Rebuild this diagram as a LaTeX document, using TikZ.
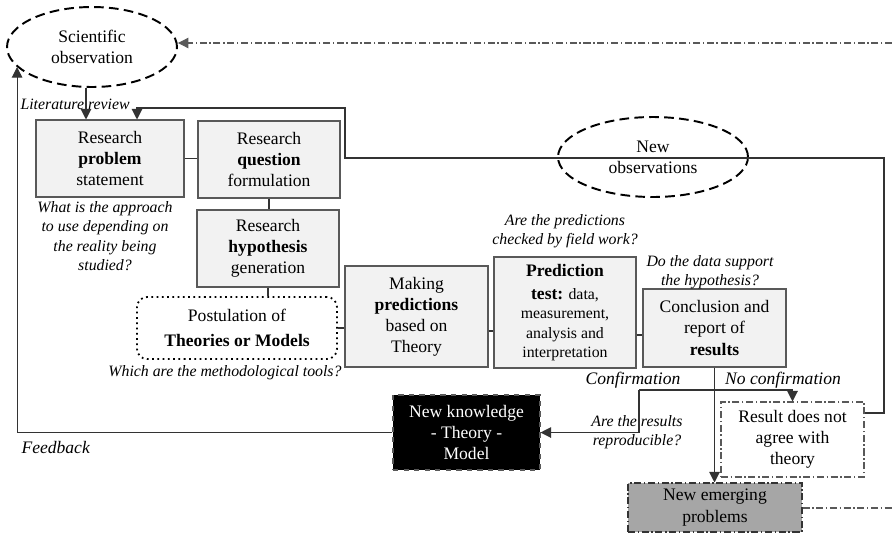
\documentclass[tikz,border=0pt]{standalone}
\usepackage{fontspec}
\setmainfont{Liberation Serif}
\usetikzlibrary{shapes.geometric,arrows.meta}
\definecolor{boxfill}{HTML}{F2F2F2}
\definecolor{boxline}{HTML}{595959}
\definecolor{emergfill}{HTML}{A6A6A6}
\definecolor{conline}{HTML}{333333}

\begin{document}
\begin{tikzpicture}[x=0.02cm,y=-0.02cm,line width=0.6pt,
    rbox/.style={draw=boxline,fill=boxfill,inner sep=0pt,align=center},
    obs/.style={ellipse,draw=black,line width=1.1pt,dash pattern=on 5.5pt off 3pt,inner sep=0pt,align=center},
    qtext/.style={font=\small\itshape,align=center,inner sep=0pt},
    arr/.style={draw=conline,-{Triangle[length=6pt,width=6pt]}},
    ddash/.style={draw=boxline,dash pattern=on 4pt off 1.5pt on 0.8pt off 1.5pt}]
        \useasboundingbox (0,0) rectangle (892,542);

        % observations
        \node[obs,minimum width=3.4cm,minimum height=1.6cm] (sciobs) at (92,47) {Scientific\\observation};
        \node[obs,minimum width=3.8cm,minimum height=1.6cm] (newobs) at (653,157) {New\\observations};

        % research steps
        \node[rbox,minimum width=2.96cm,minimum height=1.54cm] (prob) at (110,158.5) {Research\\\textbf{problem}\\statement};
        \node[rbox,minimum width=2.84cm,minimum height=1.54cm] (ques) at (269,159.5) {Research\\\textbf{question}\\formulation};
        \node[rbox,minimum width=2.84cm,minimum height=1.54cm] (hyp) at (268,248.5) {Research\\\textbf{hypothesis}\\generation};
        \node[draw=black,dotted,line width=1pt,rounded corners=0.2cm,inner sep=0pt,align=center,
              minimum width=4cm,minimum height=1.24cm] (post) at (237,328) {Postulation of\\[2pt]\textbf{Theories or Models}};
        \node[rbox,minimum width=2.86cm,minimum height=2.02cm] (make) at (416.5,316.5) {Making\\\textbf{predictions}\\based on\\Theory};
        \node[rbox,font=\small,minimum width=2.84cm,minimum height=2.22cm] (test) at (565,312.5)
            {{\normalsize\textbf{Prediction}}\\[2pt]{\normalsize\textbf{test:}} data,\\measurement,\\analysis and\\interpretation};
        \node[rbox,minimum width=2.86cm,minimum height=1.56cm] (concl) at (714.5,328) {Conclusion and\\report of\\\textbf{results}};

        % outcomes
        \node[fill=black,draw=boxline,dashed,text=white,inner sep=0pt,align=center,
              minimum width=2.94cm,minimum height=1.5cm] (know) at (466.5,432.5) {New knowledge\\- Theory -\\Model};
        \node[ddash,fill=white,inner sep=0pt,align=center,
              minimum width=2.86cm,minimum height=1.5cm] (nores) at (792.5,439.5) {Result does not\\agree with\\theory};
        \node[ddash,draw=conline,fill=emergfill,inner sep=0pt,align=center,
              minimum width=3.48cm,minimum height=0.98cm] (emerg) at (715,507.5) {New emerging\\problems};

        % labels
        \node[qtext,anchor=west] (litrev) at (20,104) {Literature review};
        \node[qtext] (q1) at (105,236) {What is the approach\\to use depending on\\the reality being\\studied?};
        \node[qtext] (q2) at (565,231) {Are the predictions\\checked by field work?};
        \node[qtext] (q3) at (710,272) {Do the data support\\the hypothesis?};
        \node[qtext] (q4) at (225,373) {Which are the methodological tools?};
        \node[qtext] (q5) at (637,432) {Are the results\\reproducible?};
        \node[font=\itshape,inner sep=0pt] (conf) at (633,380) {Confirmation};
        \node[font=\itshape,inner sep=0pt] (noconf) at (783,380) {No confirmation};
        \node[font=\itshape,inner sep=0pt,anchor=west] (fb) at (21,447) {Feedback};

        \coordinate (split) at (639,390);
        \coordinate (topR) at (892,43);
        \coordinate (botR) at (892,508);

        % step links
        \draw[conline] (prob.east) -- (prob.east -| ques.west);
        \draw[conline] (ques.south) -- (ques.south |- hyp.north);
        \draw[conline] (hyp.south) -- (hyp.south |- post.north);
        \draw[conline] (post.east) -- (post.east -| make.west);
        \draw[conline] (make.east |- 0,331) -- (test.west |- 0,331);
        \draw[conline] (test.east |- 0,335) -- (concl.west |- 0,335);

        % arrows
        \draw[arr] ([xshift=-0.12cm]sciobs.south) -- ([xshift=-0.12cm]sciobs.south |- prob.north);
        \draw[arr] (know.west) -| (sciobs.195);
        \draw[arr] (nores.east |- 0,413) -- (884,413) -- (884,158) -- (345,158) -- (345,108) -- (137,108) -- (prob.north -| 137,0);
        \draw[arr] (concl.south) -- (concl.south |- emerg.north);
        \draw[arr] (split) -| (nores.north);
        \draw[arr] (split) |- (know.east);
        \draw[ddash,-{Triangle[length=6pt,width=6pt]}] (topR) -- (sciobs.east |- topR);
        \draw[ddash] (emerg.east |- botR) -- (botR);
    \end{tikzpicture}
\end{document}
